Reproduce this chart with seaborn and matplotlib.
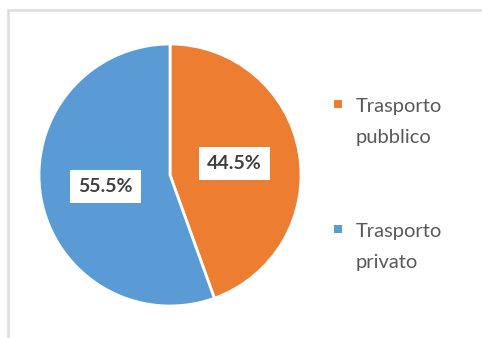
import matplotlib
matplotlib.use("Agg")
import matplotlib.pyplot as plt
from matplotlib.patches import Rectangle
import seaborn as sns

categories = ["Trasporto\npubblico", "Trasporto\nprivato"]
values = [44.5, 55.5]
colors = ["#ED7D31", "#5B9BD5"]

sns.set_theme(style="white")
plt.rcParams["font.family"] = ["Lato", "DejaVu Sans"]

W, H = 482, 338
fig = plt.figure(figsize=(W / 100, H / 100), dpi=100)
fig.patch.set_facecolor("white")

# light frame
fig.patches.append(Rectangle((8 / W, -0.1), 1.2, (H - 10) / H + 0.1,
                             transform=fig.transFigure, fill=False,
                             edgecolor="#dcdcdc", linewidth=1.8))

cx, cy, r = 170, 175, 131
ax = fig.add_axes([(cx - r) / W, (H - cy - r) / H, 2 * r / W, 2 * r / H])
wedges, texts, autotexts = ax.pie(
    values, colors=colors, startangle=90, counterclock=False,
    autopct="%.1f%%", pctdistance=0.50,
    wedgeprops=dict(edgecolor="white", linewidth=2),
    textprops=dict(fontsize=14, fontweight="bold", color="#404040"))
for t in autotexts:
    t.set_bbox(dict(facecolor="white", edgecolor="none", boxstyle="square,pad=0.42"))
ax.set_aspect("equal")
ax.set_xlim(-1, 1)
ax.set_ylim(-1, 1)

# legend
leg_base = [112, 237]
line_gap = 31
for lab, col, yb in zip(categories, colors, leg_base):
    fig.patches.append(Rectangle(((337.5 - 4) / W, (H - 104 - (yb - 112) - 4) / H), 8 / W, 8 / H,
                                 transform=fig.transFigure, facecolor=col,
                                 edgecolor="none"))
    for k, line in enumerate(lab.split("\n")):
        fig.text(356 / W, (H - (yb + k * line_gap)) / H, line, ha="left",
                 va="baseline", fontsize=14.5, color="#595959")

fig.savefig("out.png", dpi=100)
